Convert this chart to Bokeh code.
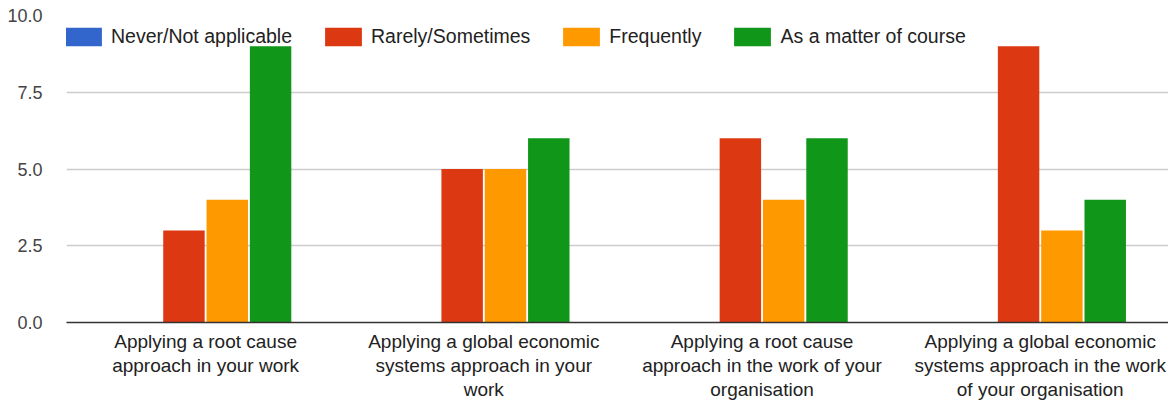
from bokeh.plotting import figure
from bokeh.models import ColumnDataSource, Range1d, FixedTicker, Legend, LegendItem
from bokeh.transform import dodge
from bokeh.embed import file_html
from bokeh.resources import INLINE

categories = [
    "Applying a root cause\napproach in your work",
    "Applying a global economic\nsystems approach in your\nwork",
    "Applying a root cause\napproach in the work of your\norganisation",
    "Applying a global economic\nsystems approach in the work\nof your organisation",
]
series_names = ["Never/Not applicable", "Rarely/Sometimes", "Frequently", "As a matter of course"]
never = [0, 0, 0, 0]
rarely = [3, 5, 6, 9]
frequently = [4, 5, 4, 3]
matter_of_course = [9, 6, 6, 4]
y_ticks = [0, 2.5, 5, 7.5, 10]
colors = ["#3366cc", "#dc3912", "#ff9900", "#109618"]

FONT = "Liberation Sans"

src = ColumnDataSource(dict(
    x=list(range(len(categories))),
    never=never, rarely=rarely, frequently=frequently, course=matter_of_course,
))

p = figure(
    output_backend="svg", toolbar_location=None,
    width=1168, height=400, frame_width=1102, frame_height=307,
    min_border_left=66, min_border_right=0, min_border_top=15, min_border_bottom=78,
    x_range=Range1d(-0.5, 3.461), y_range=Range1d(0, 10),
)
p.outline_line_color = None
p.background_fill_color = "white"

pitch = 0.1557
width = 0.149
cols = ["never", "rarely", "frequently", "course"]
items = []
for i, (c, name, col) in enumerate(zip(cols, series_names, colors)):
    r = p.vbar(x=dodge("x", (i - 1.5) * pitch, range=p.x_range), top=c, width=width,
               bottom=0, source=src, fill_color=col, line_color=None)
    items.append(LegendItem(label=name, renderers=[r]))

legend = Legend(items=items, orientation="horizontal", location=(-6, 274),
                glyph_width=46, glyph_height=23, label_height=23, label_standoff=5,
                spacing=28, padding=0, margin=0, border_line_color=None,
                background_fill_alpha=0,
                label_text_font=FONT, label_text_font_size="19.5px", label_text_color="#222222")
p.add_layout(legend, "center")

# x axis
p.xaxis.ticker = FixedTicker(ticks=list(range(len(categories))))
p.xaxis.major_label_overrides = {i: c for i, c in enumerate(categories)}
p.xaxis.axis_line_color = "#333333"
p.xaxis.axis_line_width = 1.5
p.xaxis.major_tick_line_color = None
p.xaxis.minor_tick_line_color = None
p.xaxis.major_label_standoff = 2
p.xaxis.major_label_text_font = FONT
p.xaxis.major_label_text_font_size = "19px"
p.xaxis.major_label_text_line_height = 1.15
p.xaxis.major_label_text_color = "#222222"
p.xaxis.major_label_text_align = "center"
p.xgrid.grid_line_color = None

# y axis
p.yaxis.ticker = FixedTicker(ticks=y_ticks)
p.yaxis.major_label_overrides = {t: f"{t:.1f}" for t in y_ticks}
p.yaxis.axis_line_color = None
p.yaxis.major_tick_line_color = None
p.yaxis.minor_tick_line_color = None
p.yaxis.major_label_standoff = 18
p.yaxis.major_label_text_font = FONT
p.yaxis.major_label_text_font_size = "18px"
p.yaxis.major_label_text_color = "#444444"
p.ygrid.grid_line_color = "#cccccc"
p.ygrid.grid_line_width = 1.5

open("out.html", "w").write(file_html(p, INLINE))
